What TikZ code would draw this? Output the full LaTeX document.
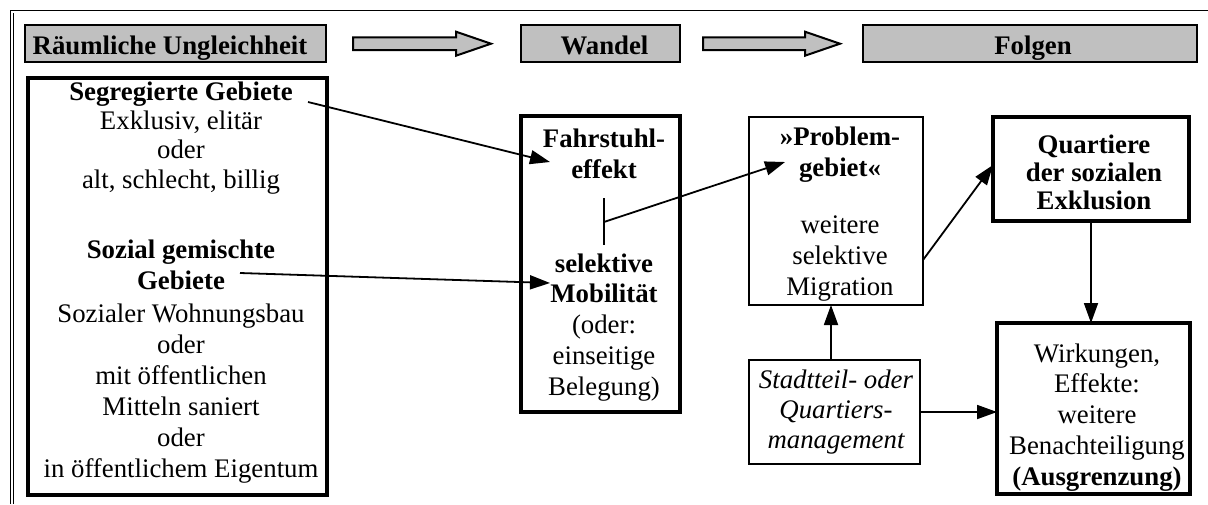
\documentclass[tikz,border=0pt]{standalone}
\usepackage{fontspec}
\setmainfont{Liberation Serif}
\usetikzlibrary{arrows.meta}
\definecolor{hdrgray}{HTML}{C0C0C0}
\begin{document}
\begin{tikzpicture}[x=1pt,y=-1pt,
  txt/.style={font=\fontsize{26.8}{30.75}\selectfont, align=center, inner sep=0pt, anchor=base},
  hdrbox/.style={draw, fill=hdrgray, line width=2pt, inner sep=0pt, outer sep=0pt},
  thickbox/.style={draw, line width=4pt, inner sep=0pt, outer sep=0pt},
  thinbox/.style={draw, line width=2pt, inner sep=0pt, outer sep=0pt},
  conn/.style={line width=1.8pt, -{Triangle[length=20pt,width=14pt]}},
  blockarrow/.style={draw, fill=hdrgray, line width=2pt, line join=miter}
]
\useasboundingbox (0,0) rectangle (1208,504);
% outer frame (cropped)
\draw[line width=1.4pt] (10.5,504) -- (10.5,10.5) -- (1208,10.5);
\draw[line width=0.9pt] (13.5,504) -- (13.5,12.5);

% header boxes
\node[hdrbox, minimum width=301pt, minimum height=37pt] (hR) at (175.5,43.5) {};
\node[hdrbox, minimum width=159pt, minimum height=37pt] (hW) at (600.5,43.5) {};
\node[hdrbox, minimum width=334pt, minimum height=37pt] (hF) at (1030,43.5) {};
\node[txt] (tR) at (170,54) {\textbf{Räumliche Ungleichheit}};
\node[txt] (tW) at (604.5,54) {\textbf{Wandel}};
\node[txt] (tF) at (1033,54) {\textbf{Folgen}};

% block arrows
\draw[blockarrow] (353,37.3) -- (456,37.3) -- (456,31.7) -- (491,43.7) -- (456,55.7) -- (456,50) -- (353,50) -- cycle;
\draw[blockarrow] (703,37.3) -- (805,37.3) -- (805,31.7) -- (840,43.7) -- (805,55.7) -- (805,50) -- (703,50) -- cycle;

% boxes
\node[thickbox, minimum width=299pt, minimum height=417pt] (left) at (177.5,286.5) {};
\node[thickbox, minimum width=159pt, minimum height=296pt] (fahr) at (600.5,264) {};
\node[thinbox, minimum width=174pt, minimum height=188pt] (prob) at (836,211) {};
\node[thickbox, minimum width=196pt, minimum height=104pt] (quart) at (1091,169) {};
\node[thickbox, minimum width=193pt, minimum height=171pt] (wirk) at (1093.5,408.5) {};
\node[thinbox, minimum width=171pt, minimum height=104pt] (stadt) at (834.5,412) {};

% texts (anchored at the baseline of their last line)
\node[txt, font=\fontsize{26.8}{29.33}\selectfont] (tseg) at (181,188) {\textbf{Segregierte Gebiete}\\ Exklusiv, elitär\\ oder\\ alt, schlecht, billig};
\node[txt, font=\fontsize{26.8}{30.86}\selectfont] (tsoz) at (181,477) {\textbf{Sozial gemischte}\\ \textbf{Gebiete}\\[2pt] Sozialer Wohnungsbau\\ oder\\ mit öffentlichen\\ Mitteln saniert\\ oder\\ in öffentlichem Eigentum};
\node[txt, font=\fontsize{26.8}{31}\selectfont] (tfahr) at (604,178) {\textbf{Fahrstuhl-}\\ \textbf{effekt}};
\node[txt] (tsel) at (604,395) {\textbf{selektive}\\ \textbf{Mobilität}\\ (oder:\\ einseitige\\ Belegung)};
\node[txt, font=\fontsize{26.8}{31}\selectfont] (tprob) at (840,295) {\textbf{»Problem-}\\ \textbf{gebiet«}\\[26pt] weitere\\ selektive\\ Migration};
\node[txt, font=\fontsize{26.8}{28}\selectfont] (tquart) at (1094,209) {\textbf{Quartiere}\\ \textbf{der sozialen}\\ \textbf{Exklusion}};
\node[txt] (twirk) at (1097,485) {Wirkungen,\\ Effekte:\\ weitere\\ Benachteiligung\\ \textbf{(Ausgrenzung)}};
\node[txt, font=\fontsize{26.8}{30}\selectfont\itshape] (tstadt) at (836,448) {Stadtteil- oder\\ Quartiers-\\ management};

% connector points
\coordinate (segend) at (308,102);
\coordinate (gebend) at (240,273);
\coordinate (fahrin1) at (550,162);
\coordinate (fahrin2) at (550,283);
\coordinate (bartop) at (604,198);
\coordinate (barbot) at (604,245);
\coordinate (barmid) at (604,222);
\coordinate (probin) at (785,162);

% connectors
\draw[conn] (segend) -- (fahrin1);
\draw[conn] (gebend) -- (fahrin2);
\draw[line width=1.8pt] (bartop) -- (barbot);
\draw[conn] (barmid) -- (probin);
\draw[conn] ([yshift=-49pt]prob.east) -- ([yshift=4pt]quart.west);
\draw[conn] (quart.south) -- (quart.south |- wirk.north);
\draw[conn] ([xshift=-3.5pt]stadt.north) -- ([xshift=-3.5pt]stadt.north |- prob.south);
\draw[conn] (stadt.east) -- (stadt.east -| wirk.west);
\end{tikzpicture}
\end{document}
